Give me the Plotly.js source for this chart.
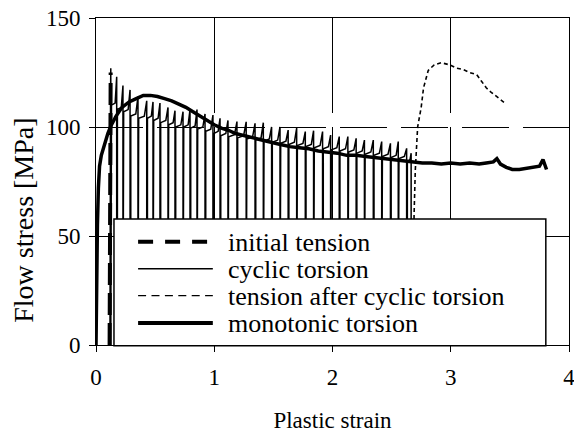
<!DOCTYPE html>
<html>
<head>
<meta charset="utf-8">
<script src="https://cdn.plot.ly/plotly-3.0.1.min.js"></script>
<style>html,body{margin:0;padding:0;background:#fff;}#chart{width:574px;height:433px;}</style>
</head>
<body>
<div id="chart"></div>
<script>
// ---- data ----
const seriesNames = ["initial tension", "cyclic torsion", "tension after cyclic torsion", "monotonic torsion"];
const xTitle = "Plastic strain";
const yTitle = "Flow stress [MPa]";

// initial tension
const initStrain = [0.115, 0.116, 0.117, 0.118, 0.12, 0.122, 0.124];
const initStress = [0, 30, 60, 85, 105, 118, 125];

// cyclic torsion: each cycle reloads at cycReload (from 0), flows at cycLow, hardens to cycPeak, unloads at cycUnload
const cycReload = [0.118, 0.131, 0.181, 0.234, 0.294, 0.361, 0.435, 0.488, 0.547, 0.615, 0.674, 0.742, 0.801, 0.860, 0.928, 0.995, 1.055, 1.122, 1.198, 1.276, 1.351, 1.421, 1.491, 1.562, 1.631, 1.703, 1.776, 1.846, 1.922, 1.990, 2.063, 2.136, 2.206, 2.276, 2.351, 2.422, 2.496, 2.562, 2.633];
const cycUnload = [0.125, 0.175, 0.228, 0.288, 0.355, 0.429, 0.482, 0.541, 0.609, 0.668, 0.736, 0.795, 0.854, 0.922, 0.989, 1.049, 1.116, 1.192, 1.270, 1.345, 1.415, 1.485, 1.556, 1.625, 1.697, 1.770, 1.840, 1.916, 1.984, 2.057, 2.130, 2.200, 2.270, 2.345, 2.416, 2.490, 2.556, 2.627, 2.665];
const cycPeak = [127, 123, 119, 117, 114, 112, 111.5, 111, 109, 107.5, 107, 108, 108, 106, 105.5, 104, 103, 102.5, 102.4, 101.7, 102, 100, 100, 98.6, 99.5, 97.9, 98.3, 97.9, 96.3, 95.6, 95.6, 94.8, 94, 94, 93.3, 92.5, 93.3, 90.2, 88];
const cycLow = [112, 110, 108, 107, 105, 104, 104, 103, 102, 101, 100, 100, 99.5, 99, 98, 97, 96, 95.5, 95, 94.5, 94, 93.5, 93, 92.5, 92, 91.5, 91, 90.5, 90, 89.5, 89, 88.5, 88, 87.5, 87, 86.5, 86, 85.5, 84];

// tension after cyclic torsion
const tacStrain = [2.680, 2.690, 2.700, 2.710, 2.720, 2.750, 2.770, 2.810, 2.860, 2.920, 2.990, 3.050, 3.100, 3.160, 3.220, 3.260, 3.300, 3.340, 3.390, 3.430, 3.470];
const tacStress = [0, 60, 80, 90, 100, 109, 118, 126, 128.5, 129.5, 128.5, 127, 126.5, 125, 124, 121, 118, 116, 114, 112.5, 110.5];

// monotonic torsion
const monoStrain = [0, 0.005, 0.012, 0.02, 0.03, 0.045, 0.07, 0.1, 0.13, 0.17, 0.22, 0.28, 0.34, 0.4, 0.46, 0.52, 0.58, 0.64, 0.7, 0.76, 0.82, 0.88, 0.94, 1.0, 1.06, 1.12, 1.18, 1.25, 1.32, 1.4, 1.48, 1.56, 1.64, 1.72, 1.8, 1.88, 1.96, 2.04, 2.12, 2.2, 2.28, 2.36, 2.44, 2.52, 2.6, 2.68, 2.76, 2.84, 2.92, 3.0, 3.08, 3.16, 3.24, 3.3, 3.36, 3.39, 3.42, 3.47, 3.52, 3.58, 3.64, 3.7, 3.75, 3.78, 3.81];
const monoStress = [0, 30, 55, 72, 82, 87, 92, 97, 101, 105, 109, 111.5, 113, 114.5, 114.5, 114, 113, 112, 110.5, 109, 107, 105, 103, 101, 99.5, 98.5, 97, 96, 95, 94, 93, 92, 91, 90.5, 90, 89, 88.5, 88, 87, 87, 86.5, 86, 85.5, 85, 84.5, 84, 83.5, 83.5, 83, 83.5, 83, 83.5, 83, 83.5, 84, 85.5, 83, 81.5, 80.5, 80.5, 81, 81.5, 82, 85, 80.5];

// axis ticks
const xTicks = [0, 1, 2, 3, 4];
const yTicks = [0, 50, 100, 150];

// ---- build cyclic path from the cycle values ----
const cx = [], cy = [];
for (let i = 0; i < cycReload.length; i++) {
  const r = cycReload[i], u = cycUnload[i];
  const mid = u - 0.3 * (u - r);
  cx.push(r, r, mid, u, u);
  cy.push(0, cycLow[i], cycLow[i] + 1, cycPeak[i], 0);
}

const FONT = "Liberation Serif";

const traces = [
  {x: cx, y: cy, mode: "lines", name: seriesNames[1], showlegend: false,
   line: {color: "#000", width: 1.5}},
  {x: initStrain, y: initStress, mode: "lines", name: seriesNames[0], showlegend: false,
   line: {color: "#000", width: 4, dash: "22px,8px"}},
  {x: tacStrain, y: tacStress, mode: "lines", name: seriesNames[2], showlegend: false,
   line: {color: "#000", width: 1.6, dash: "4px,3px"}},
  {x: monoStrain, y: monoStress, mode: "lines", name: seriesNames[3], showlegend: false,
   line: {color: "#000", width: 3.5}}
];

// ---- hand-drawn legend box (paper coords) ----
const lgX0 = 0.038, lgX1 = 0.951, lgY0 = -0.002, lgY1 = 0.385;
const rowY = [0.316, 0.233, 0.151, 0.067];
const sampleX0 = 0.089, sampleX1 = 0.247, textX = 0.275;
const sampleStyle = [
  {width: 4, dash: "15px,12px"},
  {width: 1.5, dash: "solid"},
  {width: 1.3, dash: "8px,5.4px"},
  {width: 4, dash: "solid"}
];
const shapes = [{type: "rect", xref: "paper", yref: "paper", x0: lgX0, x1: lgX1, y0: lgY0, y1: lgY1,
  fillcolor: "#fff", line: {color: "#000", width: 1.5}, layer: "above"}];
const annotations = [];
seriesNames.forEach((n, i) => {
  shapes.push({type: "line", xref: "paper", yref: "paper", x0: sampleX0, x1: sampleX1, y0: rowY[i], y1: rowY[i],
    line: {color: "#000", width: sampleStyle[i].width, dash: sampleStyle[i].dash}, layer: "above"});
  annotations.push({xref: "paper", yref: "paper", x: textX, y: rowY[i] - 0.002, xanchor: "left", yanchor: "middle",
    text: n, showarrow: false, font: {family: FONT, size: 26, color: "#000"}});
});
// y-axis title, centred on the figure height like the reference
annotations.push({xref: "paper", yref: "paper", x: -0.155, y: 0.382, xanchor: "center", yanchor: "middle",
  textangle: -90, text: yTitle, showarrow: false, font: {family: FONT, size: 28, color: "#000"}});

const layout = {
  width: 574, height: 433,
  margin: {l: 96, r: 5, t: 18, b: 88},
  paper_bgcolor: "#fff", plot_bgcolor: "#fff",
  showlegend: false,
  font: {family: FONT, size: 23, color: "#000"},
  xaxis: {range: [0, 4], tickvals: xTicks, ticktext: xTicks.map(String), ticklabeloverflow: "allow",
    showgrid: true, gridcolor: "#000", gridwidth: 1, griddash: "95px,14px",
    showline: true, linecolor: "#000", linewidth: 1, mirror: true, zeroline: false,
    ticks: "outside", ticklen: 6, tickcolor: "#000", ticklabelstandoff: 5,
    tickfont: {family: FONT, size: 23, color: "#000"},
    title: {text: xTitle, font: {family: FONT, size: 23, color: "#000"}, standoff: 24}},
  yaxis: {range: [0, 150], tickvals: yTicks, ticktext: yTicks.map(String),
    showgrid: true, gridcolor: "#000", gridwidth: 1, griddash: "47px,14px",
    showline: true, linecolor: "#000", linewidth: 1, mirror: true, zeroline: false,
    ticks: "outside", ticklen: 6, tickcolor: "#000", ticklabelstandoff: 4,
    tickfont: {family: FONT, size: 23, color: "#000"},
    title: {text: ""}},
  shapes: shapes,
  annotations: annotations
};

Plotly.newPlot("chart", traces, layout, {staticPlot: true, displayModeBar: false});
</script>
</body>
</html>
